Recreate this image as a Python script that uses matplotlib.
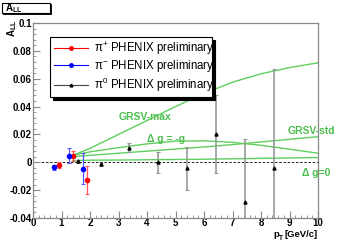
import matplotlib
matplotlib.use('Agg')
import matplotlib.pyplot as plt
import numpy as np
from matplotlib.lines import Line2D
from matplotlib.patches import Rectangle

plt.rcParams['font.family'] = ['Liberation Sans', 'DejaVu Sans']
plt.rcParams['mathtext.default'] = 'regular'

# data
pip_x = [0.90, 1.41, 1.90]
pip_y = [-0.0020, 0.0045, -0.0125]
pip_e = [0.0020, 0.0036, 0.0100]

pim_x = [0.74, 1.26, 1.74]
pim_y = [-0.0036, 0.0047, -0.0046]
pim_e = [0.0020, 0.0054, 0.0110]

pi0_x = [1.57, 2.37, 3.37, 4.37, 5.39, 6.42, 7.43, 8.44]
pi0_y = [0.0007, -0.0015, 0.0105, 0.0000, -0.0043, 0.0203, -0.0283, -0.0039]
pi0_e = [0.0010, 0.0010, 0.0030, 0.0075, 0.0153, 0.0280, 0.0450, 0.0707]

curve_x = [1.4, 2, 3, 4, 5, 6, 7, 8, 9, 10]
grsv_max = [0.005, 0.010, 0.020, 0.030, 0.040, 0.0495, 0.0575, 0.0635, 0.0680, 0.0714]
dg_minus_g = [0.005, 0.0075, 0.0105, 0.0132, 0.0152, 0.0154, 0.0143, 0.0122, 0.0094, 0.0065]
grsv_std = [0.004, 0.0050, 0.0065, 0.0080, 0.0095, 0.0110, 0.0127, 0.0146, 0.0165, 0.0184]
dg_zero = [0.0012, 0.0015, 0.0016, 0.0018, 0.0020, 0.0022, 0.0025, 0.0028, 0.0031, 0.0034]

green = '#5fcf5f'
tgreen = '#4cbf4c'

fig = plt.figure(figsize=(3.49, 2.40), dpi=100)
ax = fig.add_axes([0.0946, 0.0917, 0.8166, 0.8125])

ax.axhline(0, color='black', lw=0.6, ls=(0, (3, 2)), zorder=1)
for c in [grsv_max, dg_minus_g, grsv_std, dg_zero]:
    ax.plot(curve_x, c, color=green, lw=1.0, zorder=2)

ax.errorbar(pi0_x, pi0_y, yerr=pi0_e, fmt='^', color='black', ms=2.2,
            ecolor='#999999', elinewidth=1.2, capsize=1.5, capthick=0.8, zorder=3)
ax.errorbar(pip_x, pip_y, yerr=pip_e, fmt='o', color='red', ms=3,
            ecolor='#ff5555', elinewidth=0.9, capsize=1.5, capthick=0.8, zorder=4)
ax.errorbar(pim_x, pim_y, yerr=pim_e, fmt='o', color='blue', ms=3,
            ecolor='#5555ff', elinewidth=0.9, capsize=1.5, capthick=0.8, zorder=4)

ax.set_xlim(0, 10)
ax.set_ylim(-0.04, 0.1)
ax.set_xticks(range(0, 11))
ax.set_xticks(np.arange(0, 10.01, 0.2), minor=True)
ax.set_yticks([-0.04, -0.02, 0, 0.02, 0.04, 0.06, 0.08, 0.1])
ax.set_yticklabels(['-0.04', '-0.02', '0', '0.02', '0.04', '0.06', '0.08', '0.1'])
ax.set_yticks(np.arange(-0.04, 0.1001, 0.004), minor=True)
ax.tick_params(which='both', direction='in', labelsize=7, colors='#888888',
               labelcolor='black')
ax.tick_params(axis='x', pad=0.3)
ax.tick_params(axis='y', pad=1)
ax.tick_params(which='major', length=5, width=0.8)
ax.tick_params(which='minor', length=2.5, width=0.6)
for s in ax.spines.values():
    s.set_color('#888888')
    s.set_linewidth(0.9)
for lab in ax.get_xticklabels() + ax.get_yticklabels():
    lab.set_fontweight('bold')

tr = ax.get_yaxis_transform()
ax.text(0.30, 0.0300, 'GRSV-max', color=tgreen, fontsize=7.5, fontweight='bold', transform=tr)
ax.text(0.40, 0.0148, '\u0394 g = -g', color=tgreen, fontsize=7.5, fontweight='bold', transform=tr)
ax.text(0.895, 0.0205, 'GRSV-std', color=tgreen, fontsize=7.5, fontweight='bold', transform=tr)
ax.text(0.945, -0.0095, '\u0394 g=0', color=tgreen, fontsize=7.5, fontweight='bold', transform=tr)

handles = [Line2D([], [], color='red', marker='o', ms=2.5, lw=0.8),
           Line2D([], [], color='blue', marker='o', ms=2.5, lw=0.8),
           Line2D([], [], color='#444444', marker='^', ms=2, mfc='black', mec='black', lw=0.8)]
labels = [r'$\pi^{+}$ PHENIX preliminary', r'$\pi^{-}$ PHENIX preliminary',
          r'$\pi^{0}$ PHENIX preliminary']
leg = ax.legend(handles, labels, loc='upper left', bbox_to_anchor=(0.06, 0.692, 0.568, 0.236),
                mode='expand', fontsize=8.3, fancybox=False, framealpha=1,
                edgecolor='black', handlelength=3.0, handletextpad=0.5,
                labelspacing=0.1, borderaxespad=0, borderpad=0.3,
                shadow={'color': 'black', 'alpha': 1})
leg.get_frame().set_linewidth(0.8)

# x axis title built from pieces so the subscript stays below the tick labels
rend = fig.canvas.get_renderer()
t3 = fig.text(0.911, 0.012, '[GeV/c]', fontsize=6.8, fontweight='bold',
              ha='right', va='baseline')
x3 = fig.transFigure.inverted().transform(t3.get_window_extent(rend))[0, 0]
t2 = fig.text(x3 - 0.006, 0.002, 'T', fontsize=4.8, fontweight='bold',
              ha='right', va='baseline')
x2 = fig.transFigure.inverted().transform(t2.get_window_extent(rend))[0, 0]
fig.text(x2, 0.012, 'p', fontsize=6.8, fontweight='bold', ha='right', va='baseline')

fig.text(0.016, 0.846, r'A$_{LL}$', fontsize=7, fontweight='bold', rotation=90,
         va='bottom')
# title box in the top left corner
fig.patches.append(Rectangle((0.010, 0.941), 0.137, 0.042, transform=fig.transFigure,
                             fc='black', ec='black', lw=0.6))
fig.patches.append(Rectangle((0.006, 0.947), 0.137, 0.042, transform=fig.transFigure,
                             fc='white', ec='black', lw=0.8))
fig.text(0.015, 0.968, r'A$_{LL}$', fontsize=7, fontweight='bold', va='center')

fig.savefig('out.png', dpi=100)
